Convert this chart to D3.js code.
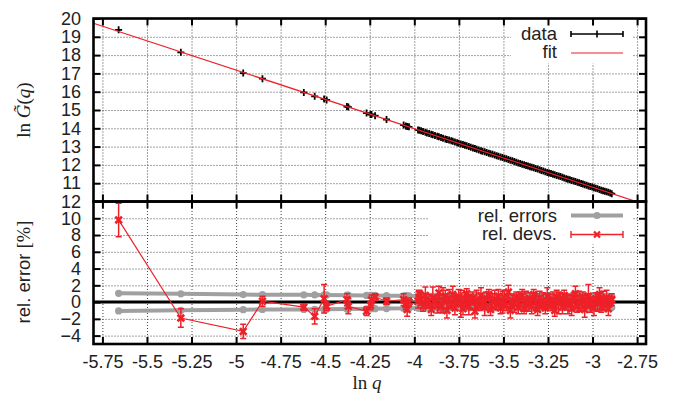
<!DOCTYPE html>
<html>
<head>
<meta charset="utf-8">
<script src="https://cdn.jsdelivr.net/npm/d3@7"></script>
<style>
body { margin: 0; background: #fff; }
svg text { font-family: "Liberation Sans", Arial, sans-serif; fill: #222; }
.serif { font-family: "Liberation Serif", "DejaVu Serif", serif; }
</style>
</head>
<body>
<div id="chart"></div>
<script>
// ln q of every data point
var lnq = [-5.659, -5.310, -4.960, -4.852, -4.620, -4.559, -4.506, -4.492, -4.378, -4.370,
  -4.268, -4.246, -4.240, -4.220, -4.156, -4.060, -4.048, -4.040, -4.030, -3.979, -3.972,
  -3.962, -3.951, -3.938, -3.929, -3.917, -3.905, -3.896, -3.884, -3.871, -3.862,
  -3.850, -3.839, -3.826, -3.817, -3.805, -3.793, -3.784, -3.772, -3.760, -3.751,
  -3.739, -3.727, -3.716, -3.706, -3.694, -3.683, -3.671, -3.660, -3.650, -3.638,
  -3.626, -3.617, -3.605, -3.594, -3.582, -3.572, -3.561, -3.549, -3.538, -3.528,
  -3.516, -3.505, -3.494, -3.483, -3.472, -3.461, -3.450, -3.439, -3.428, -3.417,
  -3.406, -3.395, -3.384, -3.373, -3.362, -3.351, -3.341, -3.330, -3.319, -3.308,
  -3.297, -3.287, -3.276, -3.265, -3.254, -3.244, -3.233, -3.222, -3.212, -3.201,
  -3.190, -3.180, -3.169, -3.159, -3.148, -3.138, -3.127, -3.117, -3.106, -3.096,
  -3.085, -3.075, -3.064, -3.054, -3.044, -3.033, -3.023, -3.013, -3.002, -2.992,
  -2.982, -2.972, -2.961, -2.951, -2.941, -2.931, -2.921, -2.911, -2.901, -2.892];

// ln G~(q)
var lnG = [19.38, 18.15, 17.02, 16.71, 15.96, 15.75, 15.60, 15.55, 15.19, 15.16,
  14.83, 14.76, 14.75, 14.69, 14.48, 14.18, 14.13, 14.10, 14.08, 13.91, 13.90,
  13.86, 13.82, 13.78, 13.75, 13.71, 13.68, 13.65, 13.61, 13.57, 13.54,
  13.50, 13.46, 13.42, 13.39, 13.36, 13.32, 13.29, 13.25, 13.21, 13.18,
  13.14, 13.11, 13.07, 13.04, 13.00, 12.97, 12.93, 12.89, 12.86, 12.82,
  12.78, 12.75, 12.72, 12.68, 12.64, 12.61, 12.58, 12.54, 12.50, 12.47,
  12.43, 12.40, 12.36, 12.33, 12.29, 12.26, 12.22, 12.18, 12.15, 12.11,
  12.08, 12.04, 12.01, 11.97, 11.94, 11.90, 11.87, 11.84, 11.80, 11.77,
  11.73, 11.70, 11.66, 11.63, 11.59, 11.56, 11.53, 11.49, 11.46, 11.42,
  11.39, 11.36, 11.32, 11.29, 11.25, 11.22, 11.19, 11.15, 11.12, 11.09,
  11.05, 11.02, 10.98, 10.95, 10.92, 10.89, 10.85, 10.82, 10.79, 10.75,
  10.72, 10.69, 10.66, 10.62, 10.59, 10.56, 10.53, 10.50, 10.46, 10.43];

// relative errors [%]
var relErr = [1.05, 0.98, 0.9, 0.88, 0.87, 0.86, 0.85, 0.85, 0.83, 0.83,
  0.8, 0.8, 0.79, 0.79, 0.77, 0.75, 0.75, 0.74, 0.74, 0.72, 0.72,
  0.68, 0.64, 0.70, 0.62, 0.66, 0.69, 0.63, 0.67, 0.65, 0.70,
  0.62, 0.68, 0.64, 0.66, 0.71, 0.63, 0.65, 0.69, 0.62, 0.67,
  0.70, 0.64, 0.66, 0.62, 0.68, 0.65, 0.63, 0.69, 0.66, 0.62,
  0.67, 0.64, 0.70, 0.63, 0.65, 0.68, 0.62, 0.66, 0.69, 0.64,
  0.63, 0.67, 0.65, 0.70, 0.62, 0.66, 0.68, 0.64, 0.63, 0.69,
  0.65, 0.62, 0.67, 0.70, 0.64, 0.66, 0.63, 0.68, 0.65, 0.62,
  0.69, 0.64, 0.66, 0.63, 0.67, 0.70, 0.62, 0.65, 0.68, 0.64,
  0.66, 0.63, 0.69, 0.65, 0.62, 0.67, 0.64, 0.70, 0.63, 0.66,
  0.68, 0.62, 0.65, 0.69, 0.64, 0.66, 0.63, 0.67, 0.70, 0.62,
  0.65, 0.68, 0.64, 0.66, 0.63, 0.69, 0.62, 0.67, 0.65, 0.64];

// relative deviations from the fit [%] and their errors
var relDev = [9.8, -1.9, -3.5, 0.1, -0.6, -1.7, 0.4, -0.5, 0.3, -0.5,
  -1.1, -0.4, 0.25, 0.6, 0.1, 0.3, -0.3, -0.9, 0.0, 0.1, 1.0,
  0.3, -0.5, 0.8, -0.2, 0.1, -0.9, 0.5, 0.0, -0.4, 1.1,
  -0.6, 0.2, 0.7, -1.0, 0.4, -0.3, 0.9, -0.7, 0.1, 0.6,
  -0.2, -0.8, 0.3, 1.0, -0.5, 0.0, 0.5, -1.1, 0.2, -0.4,
  0.8, -0.1, -0.6, 0.4, 0.9, -0.9, 0.1, 0.3, -0.3, 0.7,
  -0.7, 0.0, 0.5, -0.4, 1.2, -1.0, 0.2, -0.2, 0.6, -0.6,
  0.3, 0.8, -0.8, 0.1, -0.3, 0.4, -0.5, 0.9, 0.0, -0.9,
  0.5, -0.2, 0.2, -0.7, 0.7, 0.1, -0.4, 0.3, -1.0, 0.6,
  -0.1, 0.4, -0.6, 0.8, 0.0, -0.3, 0.2, -0.8, 0.5, 1.0,
  -0.5, 0.1, -0.2, 0.6, -0.9, 0.3, 0.7, -0.4, 0.0, -0.7,
  0.4, -0.1, 0.9, -0.6, 0.2, -0.3, 0.5, -0.8, 0.1, 0.3];

var devErr = [2.0, 1.1, 0.85, 0.6, 0.4, 0.9, 1.7, 0.5, 0.7, 0.9,
  0.5, 0.5, 0.6, 0.4, 0.4, 0.7, 0.6, 0.8, 0.5, 0.8, 0.4,
  0.7, 0.6, 1.0, 0.5, 0.8, 0.7, 1.3, 0.6, 0.9, 0.8,
  0.6, 1.5, 0.7, 0.9, 1.1, 0.5, 1.0, 0.8, 0.6, 0.9,
  1.6, 0.7, 0.8, 0.6, 1.0, 0.9, 0.7, 0.8, 1.2, 0.6,
  0.9, 0.7, 1.0, 0.8, 0.6, 0.7, 0.9, 1.1, 0.6, 0.8,
  0.7, 1.3, 0.9, 0.6, 0.8, 0.9, 0.7, 1.0, 0.6, 0.8,
  0.9, 0.7, 0.6, 1.2, 0.8, 0.7, 0.9, 0.6, 1.0, 0.7,
  0.8, 0.6, 0.9, 0.7, 1.0, 0.8, 0.6, 0.9, 0.7, 0.8,
  1.3, 0.7, 0.8, 0.6, 0.9, 1.1, 0.7, 0.8, 0.6, 0.9,
  0.7, 1.2, 0.8, 0.6, 0.9, 0.7, 1.4, 0.8, 0.6, 0.9,
  0.7, 1.0, 0.8, 0.6, 1.1, 0.7, 0.9, 0.8, 0.6, 0.7];

// straight-line fit  lnG = fitA + fitB * lnq
var fitA = 1.18, fitB = -3.2;

var xTicks = [-5.75, -5.5, -5.25, -5, -4.75, -4.5, -4.25, -4, -3.75, -3.5, -3.25, -3, -2.75];
var xTickLabels = ["-5.75", "-5.5", "-5.25", "-5", "-4.75", "-4.5", "-4.25", "-4", "-3.75", "-3.5", "-3.25", "-3", "-2.75"];
var yTicksTop = [11, 12, 13, 14, 15, 16, 17, 18, 19, 20];
var yTicksBot = [-4, -2, 0, 2, 4, 6, 8, 10, 12];

var W = 684, H = 403,
    L = 93.5, R = 646, T = 18.5, M = 201.5, B = 344;

var red = "#ee2028", grey = "#a0a0a0";

var x = d3.scaleLinear().domain([-5.8, -2.7]).range([L, R]);
var yT = d3.scaleLinear().domain([10, 20]).range([M, T]);
var yB = d3.scaleLinear().domain([-5, 12]).range([B, M]);

var svg = d3.select("#chart").append("svg")
    .attr("width", W)
    .attr("height", H);

var defs = svg.append("defs");
defs.append("clipPath").attr("id", "clipT").append("rect")
    .attr("x", L).attr("y", T).attr("width", R - L).attr("height", M - T);
defs.append("clipPath").attr("id", "clipB").append("rect")
    .attr("x", L).attr("y", M).attr("width", R - L).attr("height", B - M);

/* dotted grid */
function grid(g) {
  g.select(".domain").remove();
  g.selectAll("text").remove();
  g.selectAll("line")
    .attr("stroke", "#444")
    .attr("stroke-width", 1)
    .attr("stroke-dasharray", "1,2");
}
svg.append("g").attr("transform", "translate(0," + M + ")")
    .call(d3.axisBottom(x).tickValues(xTicks).tickSize(-(M - T))).call(grid);
svg.append("g").attr("transform", "translate(0," + B + ")")
    .call(d3.axisBottom(x).tickValues(xTicks).tickSize(-(B - M))).call(grid);
svg.append("g").attr("transform", "translate(" + L + ",0)")
    .call(d3.axisLeft(yT).tickValues(yTicksTop).tickSize(-(R - L))).call(grid);
svg.append("g").attr("transform", "translate(" + L + ",0)")
    .call(d3.axisLeft(yB).tickValues(yTicksBot).tickSize(-(R - L))).call(grid);

/* opaque key boxes */
svg.append("rect").attr("x", 511).attr("y", T + 1).attr("width", 122).attr("height", 44).attr("fill", "#fff");
svg.append("rect").attr("x", 428).attr("y", M + 1).attr("width", 205).attr("height", 42).attr("fill", "#fff");

/* upper panel: data + fit */
var pts = lnq.map(function(d, i) {
  return { x: d, g: lnG[i], e: relErr[i], dev: relDev[i], de: devErr[i] };
});

var upper = svg.append("g").attr("clip-path", "url(#clipT)");
upper.selectAll("path.pt")
    .data(pts)
  .enter().append("path")
    .attr("class", "pt")
    .attr("d", function(d) {
      var px = x(d.x), py = yT(d.g);
      return "M" + (px - 3.5) + "," + py + "h7M" + px + "," + (py - 3.5) + "v7";
    })
    .attr("stroke", "#000")
    .attr("stroke-width", 1.8);

upper.append("path")
    .datum(x.domain())
    .attr("d", d3.line().x(function(d) { return x(d); }).y(function(d) { return yT(fitA + fitB * d); }))
    .attr("fill", "none")
    .attr("stroke", red)
    .attr("stroke-width", 1.2);

/* lower panel */
var lower = svg.append("g").attr("clip-path", "url(#clipB)");
lower.append("line")
    .attr("x1", L).attr("x2", R)
    .attr("y1", yB(0)).attr("y2", yB(0))
    .attr("stroke", "#000")
    .attr("stroke-width", 3);

[1, -1].forEach(function(s) {
  lower.append("path")
      .datum(pts)
      .attr("d", d3.line().x(function(d) { return x(d.x); }).y(function(d) { return yB(s * d.e); }))
      .attr("fill", "none")
      .attr("stroke", grey)
      .attr("stroke-width", 4);
  lower.selectAll(null)
      .data(pts)
    .enter().append("circle")
      .attr("cx", function(d) { return x(d.x); })
      .attr("cy", function(d) { return yB(s * d.e); })
      .attr("r", 3.6)
      .attr("fill", grey);
});

lower.append("path")
    .datum(pts)
    .attr("d", d3.line().x(function(d) { return x(d.x); }).y(function(d) { return yB(d.dev); }))
    .attr("fill", "none")
    .attr("stroke", red)
    .attr("stroke-width", 1.2);

lower.selectAll("path.eb")
    .data(pts)
  .enter().append("path")
    .attr("class", "eb")
    .attr("d", function(d) {
      var px = x(d.x), y1 = yB(d.dev + d.de), y2 = yB(d.dev - d.de);
      return "M" + px + "," + y1 + "V" + y2 +
             "M" + (px - 3) + "," + y1 + "h6M" + (px - 3) + "," + y2 + "h6";
    })
    .attr("fill", "none")
    .attr("stroke", red)
    .attr("stroke-width", 1.5);

lower.selectAll("path.mk")
    .data(pts)
  .enter().append("path")
    .attr("class", "mk")
    .attr("d", function(d) {
      var px = x(d.x), py = yB(d.dev);
      return "M" + (px - 3.3) + "," + (py - 3.3) + "l6.6,6.6M" + (px - 3.3) + "," + (py + 3.3) + "l6.6,-6.6";
    })
    .attr("stroke", red)
    .attr("stroke-width", 2.6);

/* ticks and labels */
function ticks(g) {
  g.select(".domain").remove();
  g.attr("font-family", null).attr("font-size", null);
  g.selectAll("line").attr("stroke", "#000").attr("stroke-width", 2);
  g.selectAll("text").style("font-size", "18px").attr("fill", "#222");
}
svg.append("g").attr("transform", "translate(0," + T + ")")
    .call(d3.axisTop(x).tickValues(xTicks).tickSize(-7).tickFormat("")).call(ticks);
svg.append("g").attr("transform", "translate(0," + M + ")")
    .call(d3.axisBottom(x).tickValues(xTicks).tickSize(-7).tickFormat("")).call(ticks);
svg.append("g").attr("transform", "translate(0," + M + ")")
    .call(d3.axisTop(x).tickValues(xTicks).tickSize(-7).tickFormat("")).call(ticks);
svg.append("g").attr("transform", "translate(0," + B + ")")
    .call(d3.axisBottom(x).tickValues(xTicks).tickSize(-7).tickPadding(11.5)
      .tickFormat(function(d, i) { return xTickLabels[i]; })).call(ticks);

svg.append("g").attr("transform", "translate(" + L + ",0)")
    .call(d3.axisLeft(yT).tickValues(yTicksTop).tickSize(-7).tickPadding(12.5)).call(ticks);
svg.append("g").attr("transform", "translate(" + R + ",0)")
    .call(d3.axisRight(yT).tickValues(yTicksTop).tickSize(-7).tickFormat("")).call(ticks);
svg.append("g").attr("transform", "translate(" + L + ",0)")
    .call(d3.axisLeft(yB).tickValues(yTicksBot).tickSize(-7).tickPadding(12.5)).call(ticks);
svg.append("g").attr("transform", "translate(" + R + ",0)")
    .call(d3.axisRight(yB).tickValues(yTicksBot).tickSize(-7).tickFormat("")).call(ticks);

/* frames */
svg.append("rect").attr("x", L).attr("y", T).attr("width", R - L).attr("height", M - T)
    .attr("fill", "none").attr("stroke", "#000").attr("stroke-width", 2.6);
svg.append("rect").attr("x", L).attr("y", M).attr("width", R - L).attr("height", B - M)
    .attr("fill", "none").attr("stroke", "#000").attr("stroke-width", 2.6);

/* keys */
var key = svg.append("g").style("font-size", "18.5px").attr("text-anchor", "end");
key.append("text").attr("x", 557).attr("y", 39.5).text("data");
key.append("text").attr("x", 557).attr("y", 58).text("fit");
key.append("text").attr("x", 557).attr("y", 221.5).text("rel. errors");
key.append("text").attr("x", 557).attr("y", 240).text("rel. devs.");

key.append("path")
    .attr("d", "M571,34H623M571,31v6M623,31v6M593.5,34h7M597,30.5v7")
    .attr("stroke", "#000").attr("stroke-width", 1.6).attr("fill", "none");
key.append("line").attr("x1", 571).attr("x2", 623).attr("y1", 53).attr("y2", 53)
    .attr("stroke", red).attr("stroke-width", 1.2);
key.append("line").attr("x1", 571).attr("x2", 623).attr("y1", 215.5).attr("y2", 215.5)
    .attr("stroke", grey).attr("stroke-width", 4);
key.append("circle").attr("cx", 597).attr("cy", 215.5).attr("r", 3.6).attr("fill", grey);
key.append("path")
    .attr("d", "M571,234.5H623M571,231v7M623,231v7")
    .attr("stroke", red).attr("stroke-width", 1.4).attr("fill", "none");
key.append("path")
    .attr("d", "M594,231.5l6,6M594,237.5l6,-6")
    .attr("stroke", red).attr("stroke-width", 2.2);

/* axis titles */
var yl = svg.append("text")
    .attr("class", "serif")
    .attr("transform", "translate(30,110) rotate(-90)")
    .attr("text-anchor", "middle")
    .style("font-size", "19px");
yl.append("tspan").text("ln ");
yl.append("tspan").attr("font-style", "italic").text("G\u0303");
yl.append("tspan").text("(");
yl.append("tspan").attr("font-style", "italic").text("q");
yl.append("tspan").text(")");

var yl2 = svg.append("text")
    .attr("transform", "translate(30,272) rotate(-90)")
    .attr("text-anchor", "middle")
    .style("font-size", "18.5px");
yl2.append("tspan").text("rel. error ");
yl2.append("tspan").attr("class", "serif").text("[%]");

var xl = svg.append("text")
    .attr("class", "serif")
    .attr("x", 367).attr("y", 389)
    .attr("text-anchor", "middle")
    .style("font-size", "19px");
xl.append("tspan").text("ln ");
xl.append("tspan").attr("font-style", "italic").text("q");
</script>
</body>
</html>
